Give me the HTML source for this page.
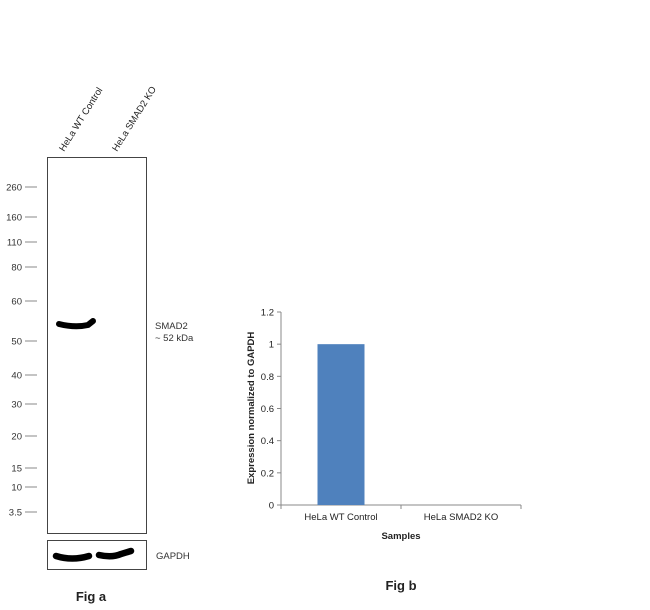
<!DOCTYPE html>
<html><head><meta charset="utf-8"><style>
body{margin:0;background:#fff;width:650px;height:610px;overflow:hidden;font-family:"Liberation Sans",Arial,sans-serif}
svg{display:block}
</style></head><body>
<svg width="650" height="610">
<g>
  <text transform="translate(64,152) rotate(-58)" font-size="9.5" fill="#222">HeLa WT Control</text>
  <text transform="translate(117,152) rotate(-58)" font-size="9.5" fill="#222">HeLa SMAD2 KO</text>
  <rect x="47.5" y="157.5" width="99" height="376" fill="#fff" stroke="#444" stroke-width="1"/>
  <g id="markers"></g>
  <path d="M59,324 Q75,328 88,325 L93,321" stroke="#000" stroke-width="6" fill="none" stroke-linecap="round"/>
  <text x="155" y="329" font-size="9.5" fill="#333">SMAD2</text>
  <text x="155" y="341" font-size="9.5" fill="#333">~ 52 kDa</text>
  <rect x="47.5" y="540.5" width="99" height="29" fill="#fff" stroke="#444"/>
  <path d="M56,556 Q72,561 89,556" stroke="#000" stroke-width="6.5" fill="none" stroke-linecap="round"/>
  <path d="M99,555 Q112,558 121,554 L131,551" stroke="#000" stroke-width="6.5" fill="none" stroke-linecap="round"/>
  <text x="156" y="559" font-size="9.5" fill="#333">GAPDH</text>
  <text x="91" y="601" font-size="13" font-weight="bold" text-anchor="middle" fill="#222">Fig a</text>
</g>
<g id="chart">
  <text x="401" y="590" font-size="13" font-weight="bold" text-anchor="middle" fill="#222">Fig b</text>
  <text x="401" y="539" font-size="9.5" font-weight="bold" text-anchor="middle" fill="#222">Samples</text>
  <text transform="translate(254,408) rotate(-90)" font-size="9.5" font-weight="bold" text-anchor="middle" fill="#222">Expression  normalized to GAPDH</text>
</g>
</svg>
<script>
const markerLabels=["260","160","110","80","60","50","40","30","20","15","10","3.5"];
const markerYs=[187,217,242,267,301,341,375,404,436,468,487,512];
const categories=["HeLa WT Control","HeLa SMAD2 KO"];
const values=[1,0];
const yTicks=[0,0.2,0.4,0.6,0.8,1,1.2];
const NS="http://www.w3.org/2000/svg";
function mk(t,a,p){const e=document.createElementNS(NS,t);for(const k in a)e.setAttribute(k,a[k]);p.appendChild(e);return e;}
const mg=document.getElementById('markers');
markerLabels.forEach((l,i)=>{
  const ln=mk('line',{x1:25,x2:37,y1:markerYs[i],y2:markerYs[i],stroke:'#888','stroke-width':1},mg);
  
  
  const t=mk('text',{x:22,y:markerYs[i]+3.5,'font-size':9.5,'text-anchor':'end',fill:'#333'},mg);
  t.textContent=l;
  
  
});
const cg=document.getElementById('chart');
const x0=281,x1=521,yB=505,yT=312,yMax=1.2;
const yS=v=>yB-(v/yMax)*(yB-yT);
const band=(x1-x0)/categories.length;
const ax=mk('line',{x1:x0,x2:x0,y1:yT,y2:yB,stroke:'#888'},cg);


const bx=mk('line',{x1:x0,x2:x1,y1:yB,y2:yB,stroke:'#888'},cg);


yTicks.forEach(v=>{
  const y=yS(v);
  const tk=mk('line',{x1:x0-4,x2:x0,y1:y,y2:y,stroke:'#888'},cg);
  
  
  const t=mk('text',{x:x0-7,y:y+3.5,'font-size':9.5,'text-anchor':'end',fill:'#222'},cg);
  t.textContent=String(v);
  
  
});
for(let i=0;i<=categories.length;i++){
  const tk=mk('line',{x1:x0+i*band,x2:x0+i*band,y1:yB,y2:yB+4,stroke:'#888'},cg);
  
  
}
categories.forEach((c,i)=>{
  const cx=x0+band*(i+0.5);
  const bw=47;
  const r=mk('rect',{x:cx-bw/2,y:yS(values[i]),width:bw,height:yB-yS(values[i]),fill:'#4f81bd'},cg);
  
  
  const t=mk('text',{x:cx,y:yB+15,'font-size':9.5,'text-anchor':'middle',fill:'#222'},cg);
  t.textContent=c;
  
  
});
</script>
</body></html>
